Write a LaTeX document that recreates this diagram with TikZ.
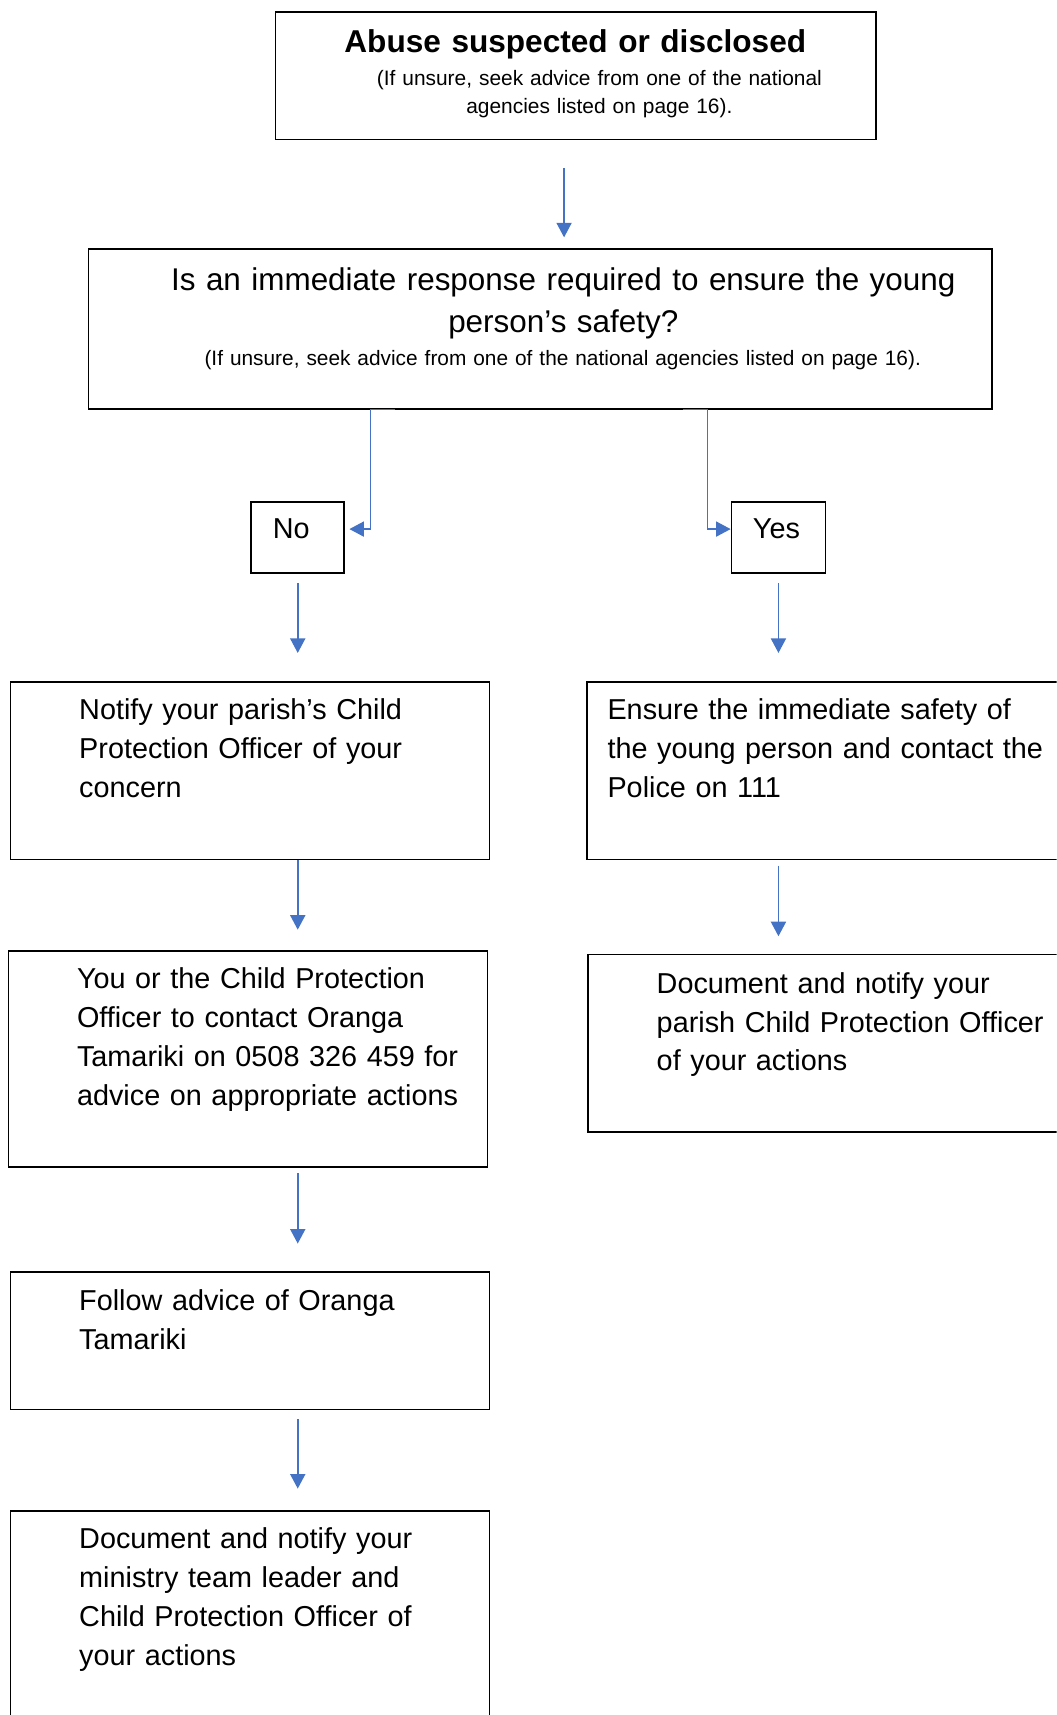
\documentclass[tikz,border=0pt]{standalone}
\usepackage{xcolor}
\usepackage{fontspec}
\setmainfont{Liberation Sans}
\usepackage{tikz}
\usetikzlibrary{arrows.meta}
\definecolor{flowblue}{RGB}{68,114,196}
\newlength{\pxu}
\setlength{\pxu}{0.45pt}
\hfuzz=300pt
\tikzset{frame/.style={draw=black, line width=0.65pt, inner sep=0, anchor=north west}}
\tikzset{flow/.style={flowblue, line width=0.7pt, ->, >={Triangle[width=6.2pt,length=6pt]}}}
\tikzset{txt/.style={inner sep=0, anchor=base west, align=left, text width=430\pxu, font=\fontsize{11.85pt}{16pt}\selectfont}}
\tikzset{ctxt/.style={inner sep=0, anchor=base, align=center}}

\begin{document}
\begin{tikzpicture}[x=0.45pt,y=-0.45pt]
\useasboundingbox (0,0) rectangle (966,1568);
\clip (0,0) rectangle (966,1568);
\node[frame, minimum width=549\pxu, minimum height=117\pxu] (abuse) at (251,10) {};
\node[ctxt, text width=500\pxu, font=\fontsize{13pt}{17pt}\selectfont\bfseries] (abusetitle) at (526,48) {Abuse suspected or disclosed};
\node[ctxt, text width=440\pxu, font=\fontsize{8.6pt}{11.7pt}\selectfont] (abusenote) at (548,78) {(If unsure, seek advice from one of the national\\agencies listed on page 16).};
\node[frame, minimum width=826\pxu, minimum height=146\pxu] (q) at (80,227) {};
\node[ctxt, text width=760\pxu, font=\fontsize{12.93pt}{17.1pt}\selectfont] (qtext) at (515,266) {Is an immediate response required to ensure the young\\person’s safety?};
\node[ctxt, text width=700\pxu, font=\fontsize{8.58pt}{11.7pt}\selectfont] (qnote) at (514.5,334) {(If unsure, seek advice from one of the national agencies listed on page 16).};
\node[frame, minimum width=85\pxu, minimum height=65\pxu] (no) at (229,458) {};
\node[txt] (notext) at (249,492) {No};
\node[frame, minimum width=86\pxu, minimum height=65\pxu] (yes) at (668,458) {};
\node[txt] (yestext) at (688,492) {Yes};
\node[frame, minimum width=438\pxu, minimum height=162\pxu] (notify) at (9,623) {};
\node[txt] (notifytext) at (72,658) {Notify your parish’s Child\\Protection Officer of your\\concern};
\node[frame, minimum width=460\pxu, minimum height=162\pxu] (ensure) at (536,623) {};
\node[txt] (ensuretext) at (555,658) {Ensure the immediate safety of\\the young person and contact the\\Police on 111};
\node[frame, minimum width=438\pxu, minimum height=197\pxu] (youor) at (7,869) {};
\node[txt] (youortext) at (70,904) {You or the Child Protection\\Officer to contact Oranga\\Tamariki on 0508 326 459 for\\advice on appropriate actions};
\node[frame, minimum width=460\pxu, minimum height=162\pxu] (docr) at (537,872) {};
\node[txt] (docrtext) at (600,908) {Document and notify your\\parish Child Protection Officer\\of your actions};
\node[frame, minimum width=438\pxu, minimum height=126\pxu] (follow) at (9,1162) {};
\node[txt] (followtext) at (72,1198) {Follow advice of Oranga\\Tamariki};
\node[frame, minimum width=438\pxu, minimum height=220\pxu] (last) at (9,1381) {};
\node[txt] (lasttext) at (72,1416) {Document and notify your\\ministry team leader and\\Child Protection Officer of\\your actions};
\draw[flow] ([xshift=-10.5\pxu,yshift=-25\pxu]abuse.south) -- ([xshift=22\pxu,yshift=10\pxu]q.north);
\draw[flow] ([xshift=-133\pxu]q.south) -- ++(-22,0) |- ([xshift=4\pxu,yshift=7.5\pxu]no.east);
\draw[flow] ([xshift=131\pxu]q.south) -- ++(22,0) |- ([yshift=7.5\pxu]yes.west);
\draw[flow] ([yshift=-9\pxu]no.south) -- ([yshift=26\pxu]no.south |- notify.north);
\draw[flow] ([yshift=-9\pxu]yes.south) -- ([yshift=26\pxu]yes.south |- ensure.north);
\draw[flow] (notify.south -| no.south) -- ([yshift=19\pxu]youor.north -| no.south);
\draw[flow] ([yshift=-5\pxu]ensure.south -| yes.south) -- ([yshift=16\pxu]docr.north -| yes.south);
\draw[flow] ([yshift=-5\pxu]youor.south -| no.south) -- ([yshift=25\pxu]follow.north -| no.south);
\draw[flow] ([yshift=-8\pxu]follow.south -| no.south) -- ([yshift=20\pxu]last.north -| no.south);
\end{tikzpicture}
\end{document}
